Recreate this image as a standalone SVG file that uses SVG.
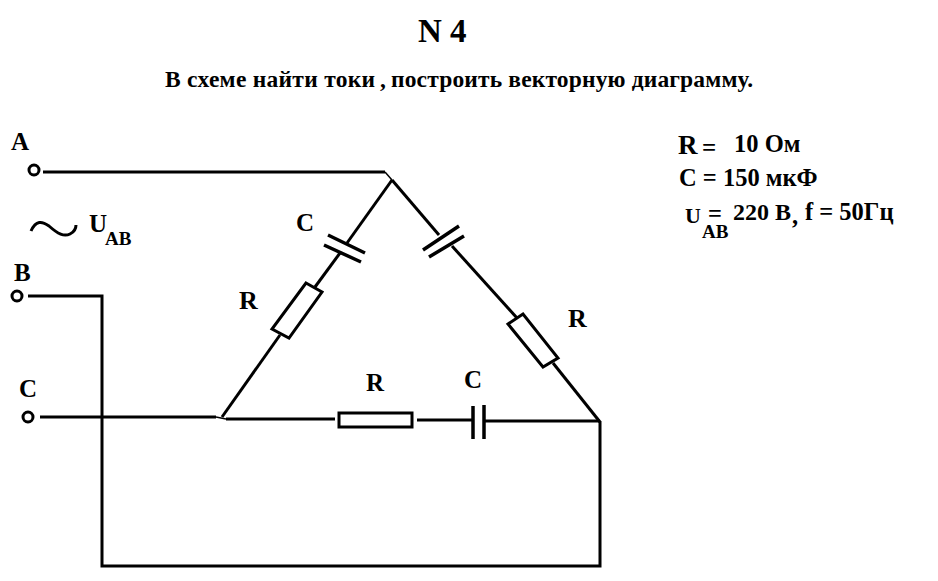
<svg xmlns="http://www.w3.org/2000/svg" width="938" height="581" viewBox="0 0 938 581">
<style>
text{font-family:"Liberation Serif","Times New Roman",serif;font-weight:bold;fill:#000}
.l{font-size:25px}
.v{font-size:24.5px}
.w{fill:none;stroke:#000;stroke-width:3;stroke-linejoin:miter}
.h{fill:none;stroke:#000;stroke-width:1.5}
.t{fill:#fff;stroke:#000;stroke-width:3}
.p{stroke:#000;stroke-width:3.5;fill:none}
.r{fill:#fff;stroke:#000;stroke-width:3}
</style>
<rect width="938" height="581" fill="#fff"/>
<g id="connectors">
<path class="w" d="M43 172H385"/>
<path class="h" d="M385 172L392 180"/>
<path class="w" d="M28 296H102V566H600V421"/>
<path class="w" d="M40 417H216"/>
<path class="h" d="M216 417L226 419"/>
<path class="w" d="M226 419H335"/>
<path class="w" d="M417 420H472"/>
<path class="w" d="M484 421H600"/>
<path class="w" d="M222 417L280 335"/>
<path class="w" d="M315 287L340 253"/>
<path class="w" d="M347 243L392 180"/>
<path class="w" d="M392 180L439 235"/>
<path class="w" d="M452 246L517 318"/>
<path class="w" d="M553 363L600 422"/>
<path class="w" d="M31 231C36 220 42 221 49 226C58 234 64 237 70 234C74 232 76 229 76 225"/>
</g>
<g id="terminal-a"><circle class="t" cx="34" cy="170" r="5"/><text class="l" x="11" y="150">A</text></g>
<g id="terminal-b"><circle class="t" cx="17" cy="296" r="5"/><text class="l" x="14" y="281">B</text></g>
<g id="terminal-c"><circle class="t" cx="28" cy="417" r="5"/><text class="l" x="19" y="397">C</text></g>
<g id="resistor-left"><polygon class="r" points="306,283 322,292 289,338 272,329"/><text font-size="26" x="239" y="309">R</text></g>
<g id="capacitor-left">
<path class="p" d="M328 235L365 253M324 245L361 262"/><text font-size="25" x="296" y="231">C</text></g>
<g id="capacitor-right">
<path class="p" d="M423 250L459 226M429 257L464 236"/></g>
<g id="resistor-right"><polygon class="r" points="508,324 523,314 558,358 543,367"/><text font-size="26" x="568" y="327">R</text></g>
<g id="resistor-bottom"><rect class="r" x="339" y="413" width="73" height="14"/><text font-size="25" x="366" y="391">R</text></g>
<g id="capacitor-bottom">
<path class="p" d="M473 406V439M484 405V439"/><text font-size="25" x="464" y="388">C</text></g>
<g id="title">
<text x="418" y="42" font-size="33">N 4</text>
<text x="165" y="87" font-size="23.5" textLength="210">В схеме найти токи</text>
<text x="380" y="87" font-size="23.5">,</text>
<text x="391" y="87" font-size="23.5" textLength="362">построить векторную диаграмму.</text>
</g>
<g id="source"><text class="l" x="89" y="232">U</text><text font-size="19" x="105" y="245">AB</text></g>
<g id="values">
<text font-size="27" x="678" y="154">R</text><text font-size="25" x="702" y="156">=</text>
<text class="v" x="734" y="152">10 Ом</text>
<text class="v" x="679" y="186">C = 150 мкФ</text>
<text font-size="22" x="685" y="223">U</text><text class="v" x="708" y="222">=</text><text font-size="24" x="733" y="220">220 В</text>
<text class="v" x="792" y="224">,</text><text class="v" x="805" y="220">f = 50Гц</text>
<text font-size="19" x="702" y="238">AB</text>
</g>
</svg>
